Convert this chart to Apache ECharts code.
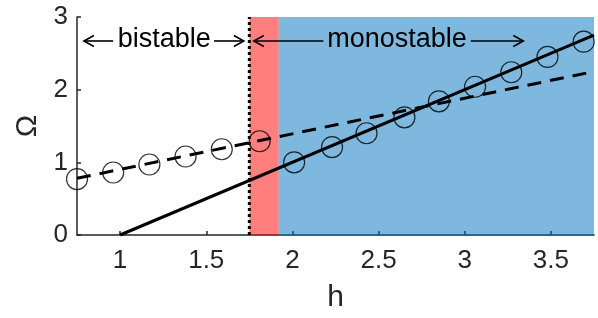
<!DOCTYPE html>
<html>
<head>
<meta charset="utf-8">
<script src="https://cdn.jsdelivr.net/npm/echarts@6/dist/echarts.min.js"></script>
<style>
html,body{margin:0;padding:0;background:#fff;}
#chart{width:598px;height:318px;}
</style>
</head>
<body>
<div id="chart"></div>
<script>
// ---- data ----
const xTicks = [1, 1.5, 2, 2.5, 3, 3.5];
const yTicks = [0, 1, 2, 3];
const hBistable = [0.75, 0.96, 1.17, 1.38, 1.59, 1.81];
const omegaBistable = [0.77, 0.86, 0.97, 1.08, 1.18, 1.29];
const hMono = [2.01, 2.23, 2.43, 2.65, 2.85, 3.06, 3.27, 3.48, 3.69];
const omegaMono = [1.00, 1.21, 1.40, 1.62, 1.84, 2.04, 2.24, 2.45, 2.66];
const solidH = [1, 3.75];
const solidOmega = [0, 2.75];
const dashedH = [0.75, 3.75];
const dashedOmega = [0.78, 2.25];
const bistableEdge = 1.75;
const redEnd = 1.92;
const xRange = [0.75, 3.75];
const yRange = [0, 3];
// annotations (data coordinates)
const annotOmega = 2.67;
const annotLabels = ['bistable', 'monostable'];
const annotLabelH = [1.256, 2.607];
// arrows: [startH, endH] with head at start (left) or end (right)
const arrowStartH = [0.79, 1.545, 1.776, 3.035];
const arrowEndH = [0.96, 1.718, 2.18, 3.34];
const arrowHeadAtEnd = [0, 1, 0, 1];

const zip = (a, b) => a.map((v, i) => [v, b[i]]);
const FONT = "'Liberation Sans', Arial, Helvetica, sans-serif";
const AX = '#262626';

const chart = echarts.init(document.getElementById('chart'), null, {renderer: 'canvas'});
const option = {
  animation: false,
  backgroundColor: '#fff',
  grid: {left: 77, right: 4, top: 17, bottom: 75, containLabel: false},
  xAxis: {
    type: 'value', min: xRange[0], max: xRange[1],
    name: 'h', nameLocation: 'middle', nameGap: 48,
    nameTextStyle: {fontFamily: FONT, fontSize: 30, color: AX},
    axisLine: {show: true, onZero: false, lineStyle: {color: AX, width: 1.5}},
    axisTick: {show: true, inside: true, length: 4, customValues: xTicks, lineStyle: {color: AX, width: 1.5}},
    axisLabel: {show: true, customValues: xTicks, margin: 13, fontFamily: FONT, fontSize: 26, color: AX},
    splitLine: {show: false}
  },
  yAxis: {
    type: 'value', min: yRange[0], max: yRange[1], interval: 1,
    name: 'Ω', nameLocation: 'middle', nameGap: 27, nameRotate: 90,
    nameTextStyle: {fontFamily: FONT, fontSize: 30, color: AX},
    axisLine: {show: true, onZero: false, lineStyle: {color: AX, width: 1.5}},
    axisTick: {show: true, inside: true, length: 4, lineStyle: {color: AX, width: 1.5}},
    axisLabel: {show: true, margin: 9, fontFamily: FONT, fontSize: 26, color: AX},
    splitLine: {show: false}
  },
  series: [
    {
      type: 'line', z: 1, data: [], silent: true,
      markArea: {
        silent: true,
        data: [
          [{xAxis: bistableEdge, yAxis: yRange[0], itemStyle: {color: 'rgba(255,0,0,0.5)'}}, {xAxis: redEnd, yAxis: yRange[1]}],
          [{xAxis: redEnd, yAxis: yRange[0], itemStyle: {color: 'rgba(0,114,189,0.5)'}}, {xAxis: xRange[1], yAxis: yRange[1]}]
        ]
      }
    },
    {
      type: 'line', z: 3, data: [[bistableEdge, yRange[0]], [bistableEdge, yRange[1]]],
      symbol: 'none', lineStyle: {color: '#000', width: 3, type: [3, 3]}
    },
    {
      type: 'line', z: 4, data: zip(solidH, solidOmega), symbol: 'none',
      lineStyle: {color: '#000', width: 3}
    },
    {
      type: 'line', z: 4, data: zip(dashedH, dashedOmega), symbol: 'none',
      lineStyle: {color: '#000', width: 3, type: [14, 9]}
    },
    {
      type: 'scatter', z: 5, clip: false, symbol: 'circle', symbolSize: 21,
      data: zip(hBistable, omegaBistable).concat(zip(hMono, omegaMono)),
      itemStyle: {color: 'rgba(0,0,0,0)', borderColor: '#000', borderWidth: 1.2}
    },
    {
      type: 'custom', z: 10, clip: false, silent: true,
      data: arrowStartH.map((s, i) => [s, arrowEndH[i], annotOmega, arrowHeadAtEnd[i]]),
      renderItem: function (params, api) {
        const a = api.coord([api.value(0), api.value(2)]);
        const b = api.coord([api.value(1), api.value(2)]);
        const atEnd = api.value(3) === 1;
        const tip = atEnd ? b : a;
        const dir = atEnd ? -1 : 1;
        return {
          type: 'group',
          children: [
            {type: 'line', shape: {x1: a[0], y1: a[1], x2: b[0], y2: b[1]},
             style: {stroke: '#000', lineWidth: 1.6}},
            {type: 'polyline', shape: {points: [[tip[0] + dir * 10, tip[1] - 5.5], [tip[0], tip[1]], [tip[0] + dir * 10, tip[1] + 5.5]]},
             style: {stroke: '#000', lineWidth: 1.6, fill: 'none'}}
          ]
        };
      }
    },
    {
      type: 'custom', z: 10, clip: false, silent: true,
      data: annotLabelH.map((h, i) => [h, annotOmega, i]),
      renderItem: function (params, api) {
        const p = api.coord([api.value(0), api.value(1)]);
        return {
          type: 'text',
          x: p[0], y: p[1] - 1,
          style: {text: annotLabels[api.value(2)], font: '27px ' + FONT, fill: '#000',
                  align: 'center', verticalAlign: 'middle'}
        };
      }
    }
  ]
};
chart.setOption(option);
</script>
</body>
</html>
